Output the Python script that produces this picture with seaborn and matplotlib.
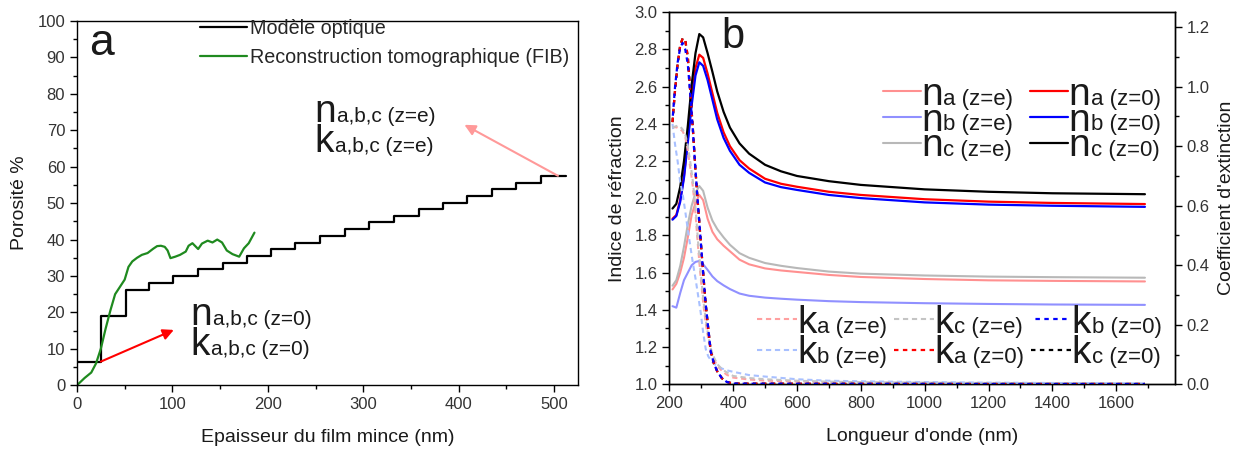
import matplotlib
matplotlib.use("Agg")
import matplotlib.pyplot as plt
import seaborn as sns
from matplotlib.ticker import MultipleLocator

sns.set_theme(style="ticks")
plt.rcParams['font.family'] = ['Liberation Sans', 'DejaVu Sans']

# ---- panel a : porosity vs film thickness ----
step_x = [0, 25, 51, 76, 101, 127, 153, 178, 203, 229, 255, 281, 306, 332,
          358, 384, 409, 435, 460, 486, 512]
step_y = [6.5, 19.1, 26.2, 28.1, 30.0, 31.9, 33.7, 35.5, 37.4, 39.1, 41.0,
          42.8, 44.7, 46.5, 48.3, 50.1, 52.0, 53.8, 55.6, 57.5, 57.5]

fib_x = [0, 8, 15, 20, 25, 30, 35, 40, 45, 50, 54, 58, 63, 68, 74, 80, 84, 88,
         92, 95, 98, 103, 108, 114, 117, 121, 124, 127, 131, 137, 142, 147,
         152, 157, 163, 170, 175, 180, 186]
fib_y = [0, 2, 3.5, 6, 10, 15.5, 20.5, 25, 27, 29, 32.5, 34, 35, 35.8, 36.3,
         37.5, 38.2, 38.3, 38, 37, 34.9, 35.3, 35.8, 36.7, 38.3, 39, 38.2, 37.4,
         38.9, 39.7, 39.2, 40, 39.2, 37, 36, 35.3, 37.6, 39, 41.9]

# ---- panel b : refractive index n (left axis) ----
wl_n = [210, 222, 234, 246, 258, 270, 282, 294, 306, 320, 335, 350, 370, 390,
        420, 450, 500, 550, 600, 700, 800, 1000, 1200, 1400, 1690]
n_a_e = [1.51, 1.54, 1.60, 1.68, 1.79, 1.91, 1.975, 2.018, 1.99, 1.89, 1.82,
         1.78, 1.745, 1.715, 1.67, 1.645, 1.623, 1.612, 1.604, 1.588, 1.577,
         1.566, 1.559, 1.556, 1.553]
n_b_e = [1.42, 1.412, 1.49, 1.56, 1.60, 1.64, 1.658, 1.663, 1.645, 1.615,
         1.58, 1.555, 1.532, 1.512, 1.488, 1.476, 1.466, 1.46, 1.455, 1.447,
         1.442, 1.436, 1.432, 1.429, 1.427]
n_c_e = [1.53, 1.56, 1.635, 1.74, 1.86, 1.96, 2.03, 2.066, 2.04, 1.95, 1.88,
         1.835, 1.79, 1.75, 1.705, 1.68, 1.652, 1.637, 1.625, 1.606, 1.595,
         1.585, 1.579, 1.576, 1.573]
n_a_0 = [1.89, 1.91, 1.99, 2.12, 2.32, 2.53, 2.70, 2.772, 2.755, 2.67, 2.565,
         2.46, 2.355, 2.28, 2.205, 2.16, 2.105, 2.078, 2.062, 2.035, 2.018,
         1.995, 1.982, 1.975, 1.969]
n_b_0 = [1.885, 1.905, 1.98, 2.11, 2.30, 2.50, 2.66, 2.731, 2.712, 2.635,
         2.53, 2.425, 2.325, 2.255, 2.18, 2.137, 2.085, 2.06, 2.045, 2.018,
         2.001, 1.978, 1.966, 1.96, 1.954]
n_c_0 = [1.945, 1.97, 2.06, 2.20, 2.39, 2.61, 2.78, 2.883, 2.865, 2.78, 2.68,
         2.575, 2.465, 2.38, 2.295, 2.24, 2.18, 2.145, 2.12, 2.092, 2.072,
         2.048, 2.035, 2.027, 2.022]

# ---- panel b : extinction coefficient k (right axis) ----
wl_k = [210, 218, 226, 234, 242, 250, 258, 266, 274, 282, 290, 298, 306, 314,
        322, 330, 340, 350, 365, 380, 400, 450, 500, 600, 700, 800, 1000,
        1200, 1400, 1690]
k_a_e = [0.8625, 0.864, 0.8625, 0.8575, 0.85, 0.831, 0.784, 0.725, 0.6625,
         0.575, 0.4625, 0.3625, 0.275, 0.206, 0.153, 0.1125, 0.084, 0.0625,
         0.045, 0.032, 0.0225, 0.016, 0.0125, 0.009, 0.007, 0.0055, 0.004,
         0.003, 0.0025, 0.002]
k_b_e = [0.875, 0.806, 0.75, 0.681, 0.6375, 0.581, 0.519, 0.4625, 0.406,
         0.356, 0.30, 0.244, 0.175, 0.119, 0.094, 0.081, 0.069, 0.061, 0.053,
         0.047, 0.042, 0.031, 0.026, 0.017, 0.012, 0.010, 0.0075, 0.0056,
         0.0044, 0.003]
k_c_e = [0.8625, 0.866, 0.869, 0.866, 0.856, 0.84, 0.80, 0.745, 0.68, 0.595,
         0.48, 0.38, 0.29, 0.218, 0.163, 0.12, 0.09, 0.068, 0.051, 0.04,
         0.028, 0.021, 0.017, 0.012, 0.009, 0.007, 0.0055, 0.0045, 0.0035,
         0.003]
k_a_0 = [0.881, 0.988, 1.075, 1.138, 1.163, 1.156, 1.10, 0.978, 0.856, 0.719,
         0.60, 0.4875, 0.375, 0.269, 0.1875, 0.109, 0.069, 0.044, 0.02, 0.008,
         0.0025, 0.002, 0.002, 0.0018, 0.0015, 0.0015, 0.0012, 0.001, 0.001,
         0.001]
k_b_0 = [0.8875, 1.0, 1.081, 1.131, 1.147, 1.125, 1.075, 0.969, 0.85, 0.719,
         0.60, 0.4875, 0.375, 0.269, 0.1875, 0.109, 0.069, 0.044, 0.02, 0.008,
         0.0025, 0.002, 0.002, 0.0018, 0.0015, 0.0015, 0.0012, 0.001, 0.001,
         0.001]
k_c_0 = [0.881, 0.988, 1.075, 1.138, 1.163, 1.156, 1.10, 0.978, 0.856, 0.719,
         0.60, 0.4875, 0.375, 0.269, 0.1875, 0.109, 0.069, 0.044, 0.02, 0.008,
         0.0025, 0.002, 0.002, 0.0018, 0.0015, 0.0015, 0.0012, 0.001, 0.001,
         0.001]

TXT = '#1a1a1a'
TICK = '#333333'

fig = plt.figure(figsize=(12.39, 4.5), dpi=100)
ax1 = fig.add_axes([0.0621, 0.1438, 0.4044, 0.8096])
ax2 = fig.add_axes([0.5402, 0.146, 0.4081, 0.8267])
ax2k = ax2.twinx()


def draw(ax, x, y, **kw):
    sns.lineplot(x=x, y=y, ax=ax, estimator=None, sort=False, legend=False, **kw)
    return ax.lines[-1]


def style_axis(ax):
    for s in ax.spines.values():
        s.set_color('black')
        s.set_linewidth(1.0)
    ax.tick_params(which='both', direction='out', colors='black',
                   labelcolor=TICK, labelsize=12, width=1)
    ax.tick_params(which='major', length=5)
    ax.tick_params(which='minor', length=3)


def big_text(ax, x, y, letter, rest, big=28, small=15):
    t = ax.text(x, y, letter, fontsize=big, va='baseline', color=TXT)
    ax.annotate(rest, xy=(1, 0), xycoords=t, xytext=(0.5, 0.21 * big),
                textcoords='offset points', fontsize=small, va='baseline',
                color=TXT)


# ---------------- panel a ----------------
step_line = draw(ax1, step_x, step_y, color='black', lw=1.6,
                 drawstyle='steps-post')
fib_line = draw(ax1, fib_x, fib_y, color='#1f8a1f', lw=1.6)

ax1.set_xlim(0, 525)
ax1.set_ylim(0, 100)
ax1.xaxis.set_major_locator(MultipleLocator(100))
ax1.xaxis.set_minor_locator(MultipleLocator(50))
ax1.yaxis.set_major_locator(MultipleLocator(10))
ax1.yaxis.set_minor_locator(MultipleLocator(5))
style_axis(ax1)
ax1.set_xlabel('Epaisseur du film mince (nm)', fontsize=14, color=TXT, labelpad=12)
ax1.set_ylabel('Porosité %', fontsize=14, color=TXT, labelpad=7)

ax1.legend([step_line, fib_line],
           ['Modèle optique', 'Reconstruction tomographique (FIB)'],
           loc='upper left', bbox_to_anchor=(200 / 1239, 1 - 19 / 450),
           bbox_transform=fig.transFigure, frameon=False, fontsize=14.2,
           handlelength=2.4, handletextpad=0.12, labelspacing=0.5,
           borderpad=0, borderaxespad=0)

ax1.text(12.7, 90.7, 'a', fontsize=32, va='baseline', color=TXT)
big_text(ax1, 249, 72.3, 'n', 'a,b,c (z=e)')
big_text(ax1, 249, 64.0, 'k', 'a,b,c (z=e)')
big_text(ax1, 119, 16.6, 'n', 'a,b,c (z=0)')
big_text(ax1, 119, 8.3, 'k', 'a,b,c (z=0)')

ax1.annotate('', xy=(101.5, 15.2), xytext=(25, 6.5),
             arrowprops=dict(arrowstyle='-|>', color='red', lw=1.5,
                             mutation_scale=16, shrinkA=0, shrinkB=0))
ax1.annotate('', xy=(406, 71.5), xytext=(504, 57.5),
             arrowprops=dict(arrowstyle='-|>', color='#ff9999', lw=1.5,
                             mutation_scale=16, shrinkA=0, shrinkB=0))

# ---------------- panel b ----------------
h_ne = [draw(ax2, wl_n, n_a_e, color='#ff9090', lw=1.5),
        draw(ax2, wl_n, n_b_e, color='#9090ff', lw=1.5),
        draw(ax2, wl_n, n_c_e, color='#b8b8b8', lw=1.5)]
h_n0 = [draw(ax2, wl_n, n_a_0, color='#ff0000', lw=1.6),
        draw(ax2, wl_n, n_b_0, color='#0000ff', lw=1.6),
        draw(ax2, wl_n, n_c_0, color='black', lw=1.6)]

h_ke = [draw(ax2k, wl_k, k_a_e, color='#ffa0a0', lw=1.5, linestyle=(0, (2.5, 1.8))),
        draw(ax2k, wl_k, k_b_e, color='#a8c0ff', lw=1.5, linestyle=(0, (2.5, 1.8))),
        draw(ax2k, wl_k, k_c_e, color='#c4c4c4', lw=1.5, linestyle=(0, (2.5, 1.8)))]
h_kc0 = draw(ax2k, wl_k, k_c_0, color='black', lw=1.6, linestyle=(0, (2, 2)))
h_ka0 = draw(ax2k, wl_k, k_a_0, color='#ff0000', lw=1.6, linestyle=(0, (2, 2)))
h_kb0 = draw(ax2k, wl_k, k_b_0, color='#0000ff', lw=1.6, linestyle=(2, (2, 2)))

ax2.set_xlim(200, 1784)
ax2.set_ylim(1.0, 3.0)
ax2k.set_ylim(0, 1.25)
ax2.xaxis.set_major_locator(MultipleLocator(200))
ax2.xaxis.set_minor_locator(MultipleLocator(100))
ax2.yaxis.set_major_locator(MultipleLocator(0.2))
ax2.yaxis.set_minor_locator(MultipleLocator(0.1))
ax2k.yaxis.set_major_locator(MultipleLocator(0.2))
ax2k.yaxis.set_minor_locator(MultipleLocator(0.1))
ax2.yaxis.set_major_formatter('{x:.1f}')
ax2k.yaxis.set_major_formatter('{x:.1f}')
style_axis(ax2)
style_axis(ax2k)
ax2.set_xlabel("Longueur d'onde (nm)", fontsize=14, color=TXT, labelpad=12)
ax2.set_ylabel('Indice de réfraction', fontsize=14, color=TXT, labelpad=6)
ax2k.set_ylabel("Coefficient d'extinction", fontsize=14, color=TXT, labelpad=6)

ax2.text(362, 2.808, 'b', fontsize=30, va='baseline', color=TXT)


def big_legend(ax, handles, letter, rest, anchor, ncol, colspace, rowspace, hlen):
    leg = ax.legend(handles, [letter] * len(handles), ncol=ncol,
                    loc='center left', bbox_to_anchor=anchor,
                    bbox_transform=fig.transFigure, frameon=False, fontsize=28,
                    handlelength=hlen, handletextpad=0.0,
                    columnspacing=colspace, labelspacing=rowspace,
                    borderpad=0, borderaxespad=0)
    for t in leg.get_texts():
        t.set_color(TXT)
    for t, s in zip(leg.get_texts(), rest):
        ax.annotate(s, xy=(1, 0), xycoords=t, xytext=(0.5, 0.21 * 28),
                    textcoords='offset points', fontsize=16, va='baseline',
                    color=TXT, zorder=10, annotation_clip=False)
    return leg


leg_n = big_legend(ax2k, h_ne + h_n0, 'n',
                   ['a (z=e)', 'b (z=e)', 'c (z=e)', 'a (z=0)', 'b (z=0)', 'c (z=0)'],
                   (883 / 1239, 0.732), 2, 2.25, -0.265, 0.98)
ax2k.add_artist(leg_n)
big_legend(ax2k, h_ke + [h_ka0, h_kb0, h_kc0], 'k',
           ['a (z=e)', 'b (z=e)', 'c (z=e)', 'a (z=0)', 'b (z=0)', 'c (z=0)'],
           (757 / 1239, 0.249), 3, 2.0, -0.14, 1.03)

fig.canvas.draw()
fig.savefig('out.png', dpi=100)
